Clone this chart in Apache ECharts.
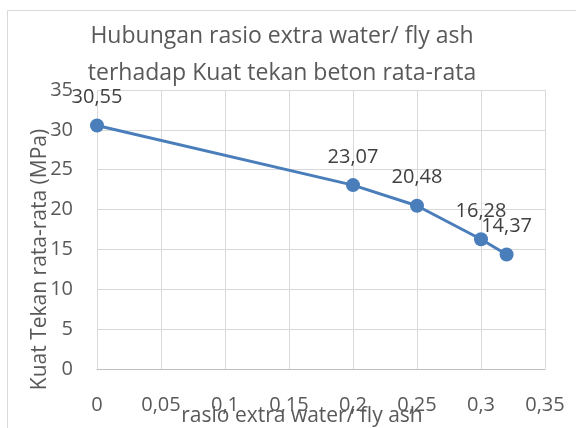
<!DOCTYPE html>
<html>
<head>
<meta charset="utf-8">
<script src="https://cdn.jsdelivr.net/npm/echarts@6/dist/echarts.min.js"></script>
<style>
  html, body { margin: 0; padding: 0; background: #fff; }
  #chart { width: 576px; height: 428px; }
</style>
</head>
<body>
<div id="chart"></div>
<script>
// rasio extra water / fly ash vs kuat tekan
const rasio = [0, 0.2, 0.25, 0.3, 0.32]
const kuatTekan = [30.55, 23.07, 20.48, 16.28, 14.37]

const comma = v => String(v).replace('.', ',')
const fontName = 'Open Sans'
const textColor = '#595959'

const chart = echarts.init(document.getElementById('chart'))
chart.setOption({
  animation: false,
  textStyle: { fontFamily: fontName },
  graphic: [{
    type: 'rect',
    shape: { x: 7.5, y: 10.5, width: 600, height: 500 },
    style: { fill: 'none', stroke: '#d9d9d9', lineWidth: 1 }
  }],
  title: {
    text: 'Hubungan rasio extra water/ fly ash\nterhadap Kuat tekan beton rata-rata',
    left: 277,
    top: 13,
    textAlign: 'center',
    textStyle: {
      fontFamily: fontName,
      fontSize: 23,
      fontWeight: 'normal',
      color: textColor,
      lineHeight: 37
    }
  },
  grid: {
    left: 97,
    right: 31,
    top: 90,
    bottom: 59,
    outerBoundsMode: 'none',
    containLabel: false
  },
  xAxis: {
    type: 'value',
    min: 0,
    max: 0.35,
    interval: 0.05,
    name: 'rasio extra water/ fly ash',
    nameLocation: 'middle',
    nameGap: 37,
    nameMoveOverlap: false,
    nameTextStyle: { color: textColor, fontSize: 21, fontFamily: fontName, padding: [0, 38, 0, 0] },
    axisLine: { show: true, lineStyle: { color: '#bfbfbf' } },
    axisTick: { show: false },
    splitLine: { show: true, lineStyle: { color: '#d9d9d9' } },
    axisLabel: { color: textColor, fontSize: 20, margin: 26, formatter: comma }
  },
  yAxis: {
    type: 'value',
    min: 0,
    max: 35,
    interval: 5,
    name: 'Kuat Tekan rata-rata (MPa)',
    nameLocation: 'middle',
    nameGap: 46,
    nameMoveOverlap: false,
    nameTextStyle: { color: textColor, fontSize: 21, fontFamily: fontName, padding: [0, 60, 0, 0] },
    axisLine: { show: false },
    axisTick: { show: false },
    splitLine: { show: true, lineStyle: { color: '#d9d9d9' } },
    axisLabel: { color: textColor, fontSize: 20, margin: 24 }
  },
  series: [{
    type: 'line',
    data: rasio.map((x, i) => [x, kuatTekan[i]]),
    symbol: 'circle',
    symbolSize: 14,
    lineStyle: { color: '#4a7ebb', width: 3 },
    itemStyle: { color: '#4a7ebb' },
    label: {
      show: true,
      position: 'top',
      distance: 11,
      color: '#404040',
      fontSize: 20,
      formatter: p => comma(p.value[1])
    }
  }]
})
</script>
</body>
</html>
